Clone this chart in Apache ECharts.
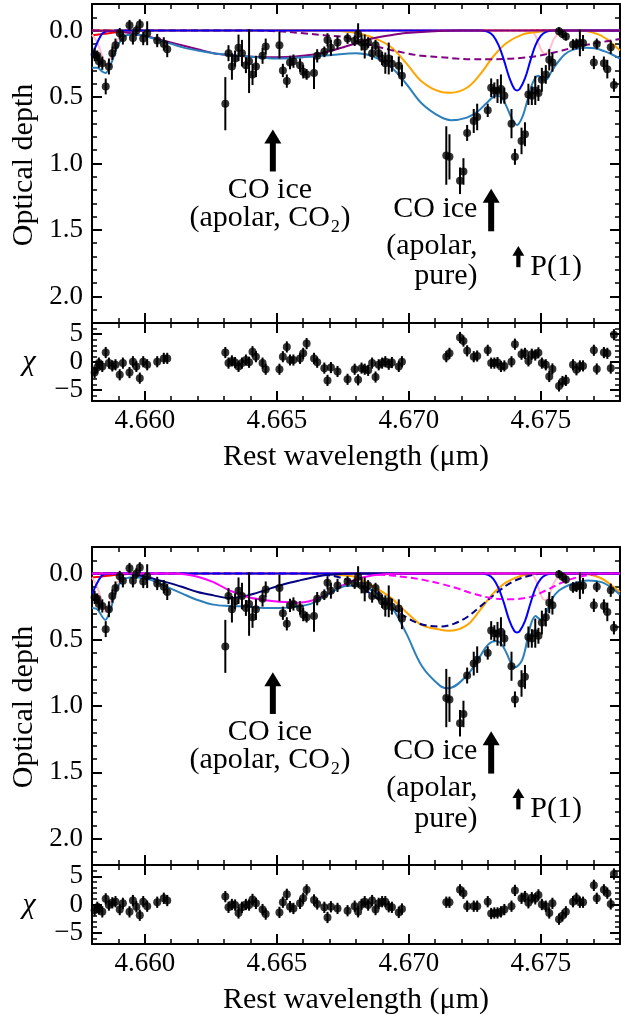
<!DOCTYPE html>
<html>
<head>
<meta charset="utf-8">
<script src="https://cdn.jsdelivr.net/npm/echarts@6/dist/echarts.min.js"></script>
<style>
  html, body { margin: 0; padding: 0; background: #fff; }
  #chart { width: 621px; height: 1018px; }
</style>
</head>
<body>
<div id="chart"></div>
<script>
  /* observed spectrum (same data in both panels) */
  var wl = [
    4.65810, 4.65820, 4.65826, 4.65839, 4.65852, 4.65864, 4.65877, 4.65889, 4.65905, 4.65917,
    4.65942, 4.65955, 4.65968, 4.65981, 4.65994, 4.66009, 4.66047, 4.66072, 4.66085,
    4.66305, 4.66317, 4.66330, 4.66342, 4.66355, 4.66368, 4.66383, 4.66395, 4.66408, 4.66421,
    4.66446, 4.66458, 4.66510, 4.66523, 4.66538, 4.66550, 4.66563, 4.66588, 4.66600, 4.66613,
    4.66641, 4.66653, 4.66680, 4.66692, 4.66705, 4.66730, 4.66768, 4.66795, 4.66808, 4.66821,
    4.66833, 4.66846, 4.66861, 4.66874, 4.66886, 4.66899, 4.66911, 4.66924, 4.66936, 4.66962, 4.66974,
    4.67142, 4.67154, 4.67194, 4.67207, 4.67221, 4.67246, 4.67259, 4.67299, 4.67312, 4.67324,
    4.67336, 4.67349, 4.67362, 4.67389, 4.67402, 4.67427, 4.67440, 4.67453, 4.67466, 4.67479,
    4.67491, 4.67504, 4.67519, 4.67532, 4.67544, 4.67569, 4.67582, 4.67595, 4.67622, 4.67635,
    4.67648, 4.67660, 4.67701, 4.67712, 4.67739, 4.67752, 4.67765, 4.67777
  ];
  var tau = [
    0.18, 0.19, 0.23, 0.245, 0.42, 0.27, 0.17, 0.11, 0.02, 0.055,
    -0.04, 0.055, 0.0, -0.045, 0.06, 0.02, 0.075, 0.10, 0.14,
    0.55, 0.17, 0.27, 0.21, 0.13, 0.17, 0.26, 0.23, 0.33, 0.27,
    0.19, 0.12, 0.11, 0.30, 0.38, 0.24, 0.23, 0.26, 0.31, 0.33,
    0.32, 0.19, 0.16, 0.07, 0.13, 0.09, 0.06, 0.076, 0.025, 0.09,
    0.12, 0.09, 0.17, 0.11, 0.17, 0.21, 0.245, 0.21, 0.25, 0.265, 0.34,
    0.94, 0.95, 1.13, 1.06, 0.77, 0.68, 0.65, 0.60, 0.43, 0.45,
    0.455, 0.44, 0.49, 0.70, 0.95, 0.83, 0.78, 0.48, 0.49, 0.45,
    0.47, 0.37, 0.33, 0.22, 0.24, 0.005, 0.025, 0.045, 0.105, 0.10,
    0.093, 0.093, 0.24, 0.10, 0.245, 0.29, 0.126, 0.41
  ];
  var tauErr = [
    0.05, 0.04, 0.05, 0.05, 0.06, 0.06, 0.05, 0.05, 0.04, 0.05,
    0.04, 0.05, 0.04, 0.04, 0.05, 0.09, 0.05, 0.05, 0.06,
    0.2, 0.06, 0.1, 0.06, 0.1, 0.1, 0.06, 0.24, 0.08, 0.08,
    0.06, 0.06, 0.1, 0.05, 0.05, 0.05, 0.05, 0.05, 0.05, 0.04,
    0.12, 0.05, 0.04, 0.05, 0.06, 0.05, 0.04, 0.04, 0.08, 0.06,
    0.09, 0.04, 0.05, 0.04, 0.04, 0.05, 0.08, 0.12, 0.06, 0.07, 0.08,
    0.22, 0.17, 0.1, 0.1, 0.06, 0.09, 0.1, 0.05, 0.07, 0.06,
    0.09, 0.11, 0.06, 0.11, 0.06, 0.1, 0.09, 0.08, 0.07, 0.11,
    0.06, 0.09, 0.07, 0.08, 0.07, 0.03, 0.03, 0.03, 0.04, 0.04,
    0.1, 0.06, 0.05, 0.04, 0.05, 0.07, 0.05, 0.05
  ];
  /* residuals, one per data point */
  var chiTop = [
    -1.9, -1.0, -0.2, -0.8, 1.7, -0.2, -0.7, -0.5, -2.3, -0.2,
    -1.9, 0.05, -0.8, -2.9, 0.05, -0.5, 0.05, 0.65, 0.65,
    1.7, -0.2, 0.2, -0.1, -0.8, -0.2, 0.35, -0.05, 1.85, 0.95,
    -0.2, -1.3, -1.3, 0.95, 2.7, 0.35, 0.35, 0.65, 1.55, 3.3,
    0.65, -0.05, -1.1, -3.3, -1.0, -1.7, -3.1, -1.3, -3.2, -1.1,
    -1.3, -1.5, -0.2, -2.7, -0.5, -0.2, 0.05, -0.4, -0.1, -0.8, 0.05,
    0.95, 1.55, 4.4, 3.75, 2.0, 0.95, 1.07, 2.1, -0.2, -0.2,
    -0.1, -0.8, -0.7, 0.05, 3.2, 1.4, 1.55, 0.2, 1.4, 1.25,
    1.65, -0.2, -0.5, -2.6, -1.25, -4.3, -3.5, -3.3, -0.5, -1.4,
    -0.7, -0.7, 2.1, -1.25, 1.7, 1.55, -1.1, 4.9
  ];
  var chiBot = [
    -1.0, -0.5, -0.8, -1.3, 1.0, -0.1, 0.3, 0.5, -0.9, 0.2,
    -1.3, 0.7, -0.4, -1.9, 0.5, -0.3, 0.4, 1.1, 0.7,
    1.4, -0.5, 0.0, -0.1, -1.5, -0.5, 0.0, -0.1, 0.9, 0.2,
    -0.9, -1.7, -1.4, 0.4, 1.8, -0.4, -0.7, 0.2, 1.1, 2.6,
    0.8, 0.1, -0.5, -2.3, -0.4, -0.7, -1.1, -0.3, -1.3, 0.0,
    0.5, -0.1, 0.7, -0.9, 0.2, 0.5, 0.5, -0.4, -0.5, -1.4, -0.8,
    0.4, 0.4, 2.6, 2.0, -0.3, -0.3, -0.3, 0.5, -1.6, -1.5,
    -1.5, -1.3, -0.9, -0.3, 2.5, 1.1, 1.4, 0.3, 1.2, 1.0,
    1.7, 0.0, -0.3, -1.5, 0.2, -2.6, -2.0, -1.3, 0.5, 1.1,
    0.4, 0.4, 3.4, 1.1, 2.6, 2.0, 0.1, 5.4
  ];

  /* model curves, upper panel: [wavelength, optical depth] */
  var totalTop = [
    [4.6580,0.28],[4.6582,0.28],[4.6584,0.31],[4.6585,0.32],[4.6587,0.26],[4.6589,0.15],[4.6591,0.07],
    [4.6593,0.035],[4.6596,0.03],[4.6600,0.04],[4.6605,0.07],[4.6610,0.10],[4.6615,0.13],[4.6620,0.15],
    [4.6626,0.17],[4.6633,0.185],[4.6639,0.195],[4.6645,0.205],[4.6650,0.21],[4.6657,0.205],[4.6664,0.195],
    [4.6670,0.185],[4.6676,0.175],[4.6680,0.17],[4.6686,0.19],[4.6693,0.27],[4.6699,0.40],[4.6705,0.55],
    [4.6712,0.65],[4.6716,0.675],[4.6722,0.655],[4.6726,0.61],[4.6730,0.535],[4.6733,0.49],[4.6735,0.50],
    [4.6737,0.57],[4.6739,0.66],[4.6741,0.71],[4.6743,0.65],[4.6745,0.52],[4.6747,0.39],[4.6749,0.34],
    [4.6751,0.37],[4.6752,0.37],[4.6754,0.31],[4.6756,0.25],[4.6759,0.18],[4.6762,0.145],[4.6767,0.13],
    [4.6771,0.135],[4.6774,0.155],[4.6777,0.18],[4.6780,0.21]
  ];
  var orangeTop = [
    [4.6580,0],[4.6670,0],[4.6675,0.005],[4.6680,0.018],[4.6686,0.05],[4.6693,0.12],[4.6699,0.245],
    [4.6705,0.385],[4.6712,0.46],[4.6716,0.467],[4.6722,0.43],[4.6727,0.33],[4.6732,0.195],[4.6737,0.093],
    [4.6743,0.03],[4.6749,0.01],[4.6755,0],[4.6765,0],[4.6772,0.03],[4.6776,0.08],[4.6780,0.15]
  ];
  var purpleTop = [
    [4.6580,0],[4.6588,0.003],[4.6595,0.02],[4.6601,0.045],[4.6607,0.075],[4.6614,0.11],[4.6620,0.14],
    [4.6626,0.17],[4.6633,0.185],[4.6639,0.195],[4.6645,0.2],[4.6650,0.2],[4.6657,0.195],[4.6664,0.18],
    [4.6670,0.155],[4.6676,0.12],[4.6681,0.09],[4.6686,0.06],[4.6693,0.035],[4.6699,0.018],[4.6708,0.006],
    [4.6720,0],[4.6780,0]
  ];
  var purpleDashTop = [
    [4.6580,0],[4.6640,0],[4.6650,0.005],[4.6660,0.02],[4.6668,0.035],[4.6676,0.05],[4.6681,0.085],
    [4.6687,0.115],[4.6693,0.145],[4.6699,0.17],[4.6705,0.19],[4.6712,0.2],[4.6718,0.21],[4.6724,0.215],
    [4.6731,0.215],[4.6737,0.213],[4.6743,0.205],[4.6749,0.19],[4.6755,0.165],[4.6762,0.13],[4.6768,0.105],
    [4.6775,0.08],[4.6780,0.063]
  ];
  var blueTop = [
    [4.6580,0.19],[4.6581,0.14],[4.6582,0.09],[4.6583,0.05],[4.6584,0.02],[4.6586,0.003],[4.6590,0],
    [4.6727,0],[4.6730,0.01],[4.6732,0.04],[4.6734,0.11],[4.6736,0.22],[4.6738,0.35],[4.6740,0.44],
    [4.6741,0.45],[4.6742,0.44],[4.6744,0.36],[4.6746,0.23],[4.6748,0.11],[4.6750,0.04],[4.6752,0.01],
    [4.6755,0],[4.6780,0]
  ];
  var pinkTop = [
    [4.6580,0.03],[4.6582,0.09],[4.6584,0.2],[4.6585,0.26],[4.6586,0.25],[4.6588,0.15],[4.6590,0.06],
    [4.6592,0.015],[4.6595,0],[4.6746,0],[4.6748,0.04],[4.6749,0.09],[4.6750,0.14],[4.6751,0.17],
    [4.6752,0.175],[4.6753,0.15],[4.6754,0.11],[4.6755,0.06],[4.6757,0.015],[4.6759,0],[4.6780,0]
  ];
  var redTop = [
    [4.6580,0.035],[4.6583,0.028],[4.6587,0.018],[4.6591,0.008],[4.6596,0.002],[4.6602,0],[4.6780,0]
  ];
  var zeroLine = [[4.6580,0],[4.6780,0]];

  /* model curves, lower panel */
  var totalBot = [
    [4.6580,0.26],[4.6582,0.27],[4.6584,0.33],[4.6585,0.35],[4.6587,0.27],[4.6589,0.14],[4.6591,0.06],
    [4.6593,0.035],[4.6596,0.028],[4.6601,0.04],[4.6607,0.09],[4.6614,0.15],[4.6620,0.2],[4.6626,0.235],
    [4.6632,0.245],[4.6639,0.25],[4.6645,0.26],[4.6651,0.26],[4.6658,0.25],[4.6664,0.22],[4.6670,0.15],
    [4.6676,0.095],[4.6680,0.09],[4.6686,0.127],[4.6693,0.24],[4.6699,0.45],[4.6705,0.70],[4.6712,0.85],
    [4.6715,0.866],[4.6722,0.77],[4.6727,0.625],[4.6730,0.537],[4.6733,0.51],[4.6735,0.53],[4.6737,0.6],
    [4.6740,0.71],[4.6743,0.65],[4.6746,0.40],[4.6748,0.32],[4.6750,0.35],[4.6752,0.30],[4.6754,0.2],
    [4.6757,0.127],[4.6762,0.077],[4.6768,0.052],[4.6773,0.065],[4.6777,0.11],[4.6780,0.16]
  ];
  var orangeBot = [
    [4.6580,0],[4.6665,0],[4.6670,0.005],[4.6676,0.015],[4.6680,0.028],[4.6686,0.09],[4.6693,0.18],
    [4.6699,0.29],[4.6705,0.39],[4.6712,0.425],[4.6715,0.433],[4.6722,0.39],[4.6727,0.276],[4.6732,0.15],
    [4.6737,0.065],[4.6743,0.015],[4.6750,0],[4.6765,0],[4.6772,0.028],[4.6776,0.077],[4.6780,0.14]
  ];
  var navyBot = [
    [4.6580,0],[4.6590,0],[4.6595,0.005],[4.6601,0.028],[4.6607,0.06],[4.6614,0.1],[4.6620,0.14],
    [4.6626,0.165],[4.6632,0.185],[4.6639,0.165],[4.6645,0.13],[4.6651,0.09],[4.6658,0.055],[4.6664,0.028],
    [4.6670,0.01],[4.6680,0],[4.6780,0]
  ];
  var navyDashBot = [
    [4.6580,0],[4.6660,0],[4.6668,0.01],[4.6674,0.03],[4.6680,0.075],[4.6686,0.16],[4.6693,0.25],
    [4.6699,0.33],[4.6705,0.385],[4.6712,0.40],[4.6717,0.38],[4.6722,0.33],[4.6727,0.25],[4.6733,0.15],
    [4.6739,0.065],[4.6746,0.015],[4.6752,0],[4.6780,0]
  ];
  var magentaBot = [
    [4.6580,0],[4.6610,0],[4.6615,0.005],[4.6620,0.025],[4.6626,0.065],[4.6632,0.127],[4.6639,0.177],
    [4.6645,0.2],[4.6651,0.214],[4.6658,0.22],[4.6664,0.2],[4.6670,0.15],[4.6674,0.1],[4.6680,0.045],
    [4.6686,0.015],[4.6693,0.003],[4.6700,0],[4.6780,0]
  ];
  var magentaDashBot = [
    [4.6580,0],[4.6680,0],[4.6690,0.01],[4.6699,0.028],[4.6706,0.05],[4.6712,0.077],[4.6718,0.11],
    [4.6724,0.15],[4.6733,0.19],[4.6739,0.194],[4.6746,0.177],[4.6752,0.127],[4.6760,0.052],[4.6767,0.015],
    [4.6773,0.003],[4.6780,0]
  ];
  var blueBot = [
    [4.6580,0.16],[4.6581,0.11],[4.6582,0.07],[4.6583,0.035],[4.6584,0.012],[4.6586,0],[4.6590,0],
    [4.6727,0],[4.6730,0.01],[4.6732,0.04],[4.6734,0.11],[4.6736,0.22],[4.6738,0.35],[4.6740,0.435],
    [4.6741,0.445],[4.6742,0.435],[4.6744,0.36],[4.6746,0.23],[4.6748,0.11],[4.6750,0.04],[4.6752,0.01],
    [4.6755,0],[4.6780,0]
  ];
  var pinkBot = [
    [4.6580,0.03],[4.6582,0.1],[4.6584,0.23],[4.6585,0.29],[4.6586,0.27],[4.6588,0.16],[4.6590,0.06],
    [4.6592,0.015],[4.6595,0],[4.6746,0],[4.6748,0.045],[4.6749,0.1],[4.6750,0.16],[4.6751,0.195],
    [4.6752,0.2],[4.6753,0.17],[4.6754,0.12],[4.6755,0.07],[4.6757,0.015],[4.6759,0],[4.6780,0]
  ];
  var redBot = [
    [4.6580,0.03],[4.6583,0.024],[4.6587,0.015],[4.6591,0.006],[4.6596,0.001],[4.6602,0],[4.6780,0]
  ];

  /* ticks */
  var xMajor = [4.660, 4.665, 4.670, 4.675];
  var tauMajor = [0, 0.5, 1, 1.5, 2];
  var chiMajor = [-5, 0, 5];

  /* annotations: [wavelength, tip depth, tail depth, scale] and [text, wavelength, depth, align] */
  var arrowNotes = [[4.66485, 0.745, 1.06, 1], [4.67312, 1.19, 1.51, 1], [4.67415, 1.62, 1.78, 0.7]];
  var textNotes = [
    ['CO ice', 4.66474, 1.20, 'center'],
    ['(apolar, CO\u2082)', 4.66474, 1.41, 'center'],
    ['CO ice', 4.67260, 1.34, 'right'],
    ['(apolar,', 4.67260, 1.62, 'right'],
    ['pure)', 4.67260, 1.85, 'right'],
    ['P(1)', 4.67460, 1.78, 'left']
  ];

  var FONT = '"Liberation Serif", "DejaVu Serif", serif';

  var grids = [
    { left: 92, top: 4, width: 528, height: 319 },
    { left: 92, top: 323, width: 528, height: 78 },
    { left: 92, top: 547, width: 528, height: 318 },
    { left: 92, top: 865, width: 528, height: 79 }
  ];

  function tickStyle(w) { return { color: '#000', width: w }; }

  function xAxisSet(g, labels) {
    var list = [];
    ['bottom', 'top'].forEach(function (pos, k) {
      list.push({
        type: 'value', gridIndex: g, position: pos, min: 4.658, max: 4.678,
        axisLine: { show: true, onZero: false, lineStyle: tickStyle(2) },
        axisTick: { inside: true, length: 10, customValues: xMajor, lineStyle: tickStyle(2) },
        axisLabel: {
          show: labels && k === 0, customValues: xMajor, margin: 6,
          formatter: function (v) { return v.toFixed(3); },
          color: '#000', fontSize: 27, fontFamily: FONT
        },
        splitLine: { show: false }
      });
      list.push({
        type: 'value', gridIndex: g, position: pos, min: 4.658, max: 4.678, interval: 0.001,
        axisLine: { show: false, onZero: false },
        axisTick: { inside: true, length: 5, lineStyle: tickStyle(1.5) },
        axisLabel: { show: false },
        splitLine: { show: false }
      });
    });
    return list;
  }

  function yAxisSet(g, min, max, major, minor, inverse, fmt) {
    var list = [];
    ['left', 'right'].forEach(function (pos, k) {
      list.push({
        type: 'value', gridIndex: g, position: pos, min: min, max: max, inverse: inverse,
        axisLine: { show: true, onZero: false, lineStyle: tickStyle(2) },
        axisTick: { inside: true, length: 10, customValues: major, lineStyle: tickStyle(2) },
        axisLabel: {
          show: k === 0, customValues: major, margin: 9, formatter: fmt,
          color: '#000', fontSize: 27, fontFamily: FONT
        },
        splitLine: { show: false }
      });
      list.push({
        type: 'value', gridIndex: g, position: pos, min: min, max: max, inverse: inverse, interval: minor,
        axisLine: { show: false, onZero: false },
        axisTick: { inside: true, length: 5, lineStyle: tickStyle(1.5) },
        axisLabel: { show: false },
        splitLine: { show: false }
      });
    });
    return list;
  }

  function tauFmt(v) { return v.toFixed(1); }
  function chiFmt(v) { return v < 0 ? '\u2212' + Math.abs(v) : String(v); }

  var xAxes = [].concat(xAxisSet(0, false), xAxisSet(1, true), xAxisSet(2, false), xAxisSet(3, true));
  var yAxes = [].concat(
    yAxisSet(0, -0.2, 2.2, tauMajor, 0.1, true, tauFmt),
    yAxisSet(1, -7, 7, chiMajor, 1, false, chiFmt),
    yAxisSet(2, -0.2, 2.2, tauMajor, 0.1, true, tauFmt),
    yAxisSet(3, -7, 7, chiMajor, 1, false, chiFmt)
  );

  function curve(g, data, color, dash) {
    return {
      type: 'line', xAxisIndex: 4 * g, yAxisIndex: 4 * g, data: data,
      showSymbol: false, smooth: 0.35, silent: true, z: 2,
      lineStyle: { color: color, width: 2, type: dash || 'solid' }
    };
  }

  function errRender(params, api) {
    var x = api.value(0);
    var p1 = api.coord([x, api.value(1)]);
    var p2 = api.coord([x, api.value(2)]);
    return {
      type: 'line',
      shape: { x1: p1[0], y1: p1[1], x2: p2[0], y2: p2[1] },
      style: { stroke: '#000', lineWidth: 2 }
    };
  }

  function points(g, yv, err) {
    var bars = wl.map(function (w, i) { return [w, yv[i] - err(i), yv[i] + err(i)]; });
    var dots = wl.map(function (w, i) { return [w, yv[i]]; });
    return [
      { type: 'custom', xAxisIndex: 4 * g, yAxisIndex: 4 * g, data: bars, renderItem: errRender,
        encode: { x: 0, y: [1, 2] }, z: 3, silent: true },
      { type: 'scatter', xAxisIndex: 4 * g, yAxisIndex: 4 * g, data: dots, symbolSize: 8,
        itemStyle: { color: '#000' }, z: 4, silent: true }
    ];
  }

  var series = [].concat(
    curve(0, zeroLine, 'red', [3, 3]),
    curve(0, redTop, 'red'),
    curve(0, pinkTop, 'pink'),
    curve(0, orangeTop, 'orange'),
    curve(0, purpleDashTop, 'purple', [7, 4]),
    curve(0, blueTop, 'blue'),
    curve(0, purpleTop, 'purple'),
    curve(0, totalTop, '#2b7fbb'),
    points(0, tau, function (i) { return tauErr[i]; }),
    points(1, chiTop, function () { return 1; }),

    curve(2, zeroLine, 'red', [3, 3]),
    curve(2, redBot, 'red'),
    curve(2, pinkBot, 'pink'),
    curve(2, orangeBot, 'orange'),
    curve(2, navyDashBot, 'navy', [7, 4]),
    curve(2, magentaDashBot, 'magenta', [7, 4]),
    curve(2, blueBot, 'blue'),
    curve(2, navyBot, 'navy'),
    curve(2, magentaBot, 'magenta'),
    curve(2, totalBot, '#2b7fbb'),
    points(2, tau, function (i) { return tauErr[i]; }),
    points(3, chiBot, function () { return 1; })
  );

  var chart = echarts.init(document.getElementById('chart'), null, { renderer: 'canvas' });
  chart.setOption({
    animation: false,
    backgroundColor: '#fff',
    grid: grids,
    xAxis: xAxes,
    yAxis: yAxes,
    series: series
  });

  /* annotations, placed through the axes of each main panel */
  var graphics = [];
  [0, 2].forEach(function (g) {
    var ref = { xAxisIndex: 4 * g, yAxisIndex: 4 * g };
    arrowNotes.forEach(function (a) {
      var tip = chart.convertToPixel(ref, [a[0], a[1]]);
      var tail = chart.convertToPixel(ref, [a[0], a[2]]);
      var hw = 17 * a[3], hh = 14 * a[3], sw = 6 * a[3];
      graphics.push({ type: 'rect', shape: { x: tip[0] - sw / 2, y: tip[1] + hh - 1, width: sw, height: tail[1] - tip[1] - hh + 1 },
        style: { fill: '#000' } });
      graphics.push({ type: 'polygon', shape: { points: [[tip[0], tip[1]], [tip[0] - hw / 2, tip[1] + hh], [tip[0] + hw / 2, tip[1] + hh]] },
        style: { fill: '#000' } });
    });
    textNotes.forEach(function (t) {
      var p = chart.convertToPixel(ref, [t[1], t[2]]);
      graphics.push({ type: 'text', x: p[0], y: p[1],
        style: { text: t[0], fill: '#000', fontSize: 30, fontFamily: FONT, align: t[3], verticalAlign: 'middle' } });
    });
  });

  /* axis titles */
  [[0, 165, 457], [1, 707, 1000]].forEach(function (r) {
    graphics.push({ type: 'text', x: 24, y: r[1], rotation: Math.PI / 2,
      style: { text: 'Optical depth', fill: '#000', fontSize: 30, fontFamily: FONT, align: 'center', verticalAlign: 'middle' } });
    graphics.push({ type: 'text', x: 356, y: r[2],
      style: { text: 'Rest wavelength (\u03bcm)', fill: '#000', fontSize: 30, fontFamily: FONT, align: 'center', verticalAlign: 'middle' } });
  });
  [362, 905].forEach(function (y) {
    graphics.push({ type: 'text', x: 29, y: y,
      style: { text: '\u03c7', fill: '#000', fontSize: 30, fontStyle: 'italic', fontFamily: FONT, align: 'center', verticalAlign: 'middle' } });
  });

  chart.setOption({ graphic: graphics });
</script>
</body>
</html>
